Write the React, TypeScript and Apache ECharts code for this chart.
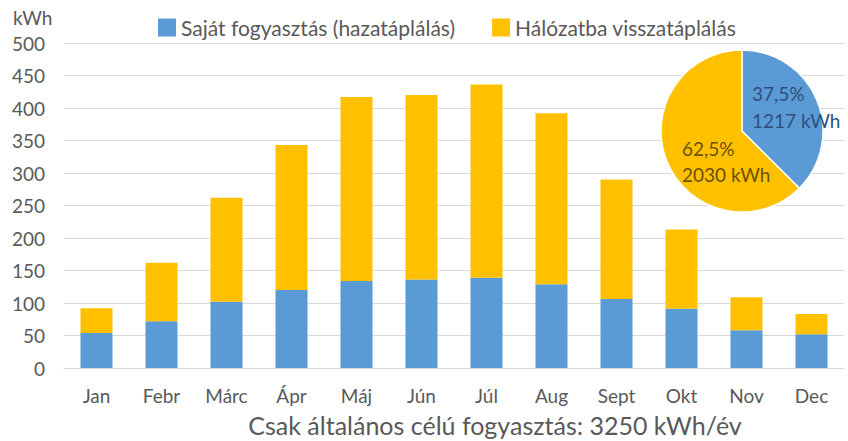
import React, { useEffect, useRef } from "react";
import * as echarts from "echarts";

const months = ["Jan", "Febr", "Márc", "Ápr", "Máj", "Jún", "Júl", "Aug", "Sept", "Okt", "Nov", "Dec"];
const ownUse = [54, 72, 102, 120, 134, 136, 139, 129, 106, 91, 58, 52];
const feedIn = [38, 90, 160, 223, 283, 284, 297, 263, 184, 122, 51, 31];
const seriesNames = ["Saját fogyasztás (hazatáplálás)", "Hálózatba visszatáplálás"];
const pieValues = [1217, 2030];
const piePercents = ["37,5%", "62,5%"];
const yTicks = [0, 50, 100, 150, 200, 250, 300, 350, 400, 450, 500];
const subtitle = "Csak általános célú fogyasztás: 3250 kWh/év";

const BLUE = "#5b9bd5";
const ORANGE = "#ffc000";
const FONT = "Lato";

export default function App() {
  const ref = useRef<HTMLDivElement>(null);
  useEffect(() => {
    const chart = echarts.init(ref.current!, null, { renderer: "svg" });
    chart.setOption({
      animation: false,
      textStyle: { fontFamily: FONT },
      legend: {
        top: 12,
        left: 153,
        itemWidth: 18,
        itemHeight: 18,
        itemGap: 37,
        icon: "rect",
        textStyle: { fontSize: 21, color: "#595959", fontFamily: FONT },
        data: seriesNames,
      },
      title: {
        text: subtitle,
        left: 490,
        textAlign: "center",
        top: 406,
        textStyle: { fontSize: 25, lineHeight: 28, fontWeight: "normal", color: "#595959", fontFamily: FONT },
      },
      grid: { left: 64, right: 4, top: 43, bottom: 73, containLabel: false },
      xAxis: {
        type: "category",
        data: months,
        axisTick: { show: false },
        axisLine: { lineStyle: { color: "#d9d9d9" } },
        axisLabel: { color: "#595959", fontSize: 19, margin: 18, fontFamily: FONT },
      },
      yAxis: {
        type: "value",
        min: yTicks[0],
        max: yTicks[yTicks.length - 1],
        interval: 50,
        axisLine: { show: false },
        axisTick: { show: false },
        splitLine: { lineStyle: { color: "#d9d9d9" } },
        axisLabel: { color: "#595959", fontSize: 19, margin: 19, fontFamily: FONT },
      },
      graphic: [
        {
          type: "text",
          left: 13,
          top: 8,
          style: { text: "kWh", fontSize: 19, fill: "#595959", fontFamily: FONT },
        },
        {
          type: "text",
          x: 752,
          y: 80,
          z: 100,
          style: {
            text: `${piePercents[0]}\n${pieValues[0]} kWh`,
            fontSize: 19,
            lineHeight: 27,
            fill: "#2f4f7f",
            fontFamily: FONT,
          },
        },
        {
          type: "text",
          x: 682,
          y: 135,
          z: 100,
          style: {
            text: `${piePercents[1]}\n${pieValues[1]} kWh`,
            fontSize: 19,
            lineHeight: 26,
            fill: "#6b5100",
            fontFamily: FONT,
          },
        },
      ],
      series: [
        {
          name: seriesNames[0],
          type: "bar",
          stack: "total",
          data: ownUse,
          barWidth: 32,
          itemStyle: { color: BLUE },
        },
        {
          name: seriesNames[1],
          type: "bar",
          stack: "total",
          data: feedIn,
          barWidth: 32,
          itemStyle: { color: ORANGE },
        },
        {
          type: "pie",
          center: [742, 131],
          radius: 81,
          startAngle: 90,
          clockwise: true,
          label: { show: false },
          labelLine: { show: false },
          itemStyle: { borderColor: "#ffffff", borderWidth: 1.5 },
          data: [
            { value: pieValues[0], name: seriesNames[0], itemStyle: { color: BLUE } },
            { value: pieValues[1], name: seriesNames[1], itemStyle: { color: ORANGE } },
          ],
          z: 10,
        },
      ],
    });
    return () => chart.dispose();
  }, []);
  return <div ref={ref} style={{ width: 848, height: 441, position: "absolute", left: 0, top: 0 }} />;
}
